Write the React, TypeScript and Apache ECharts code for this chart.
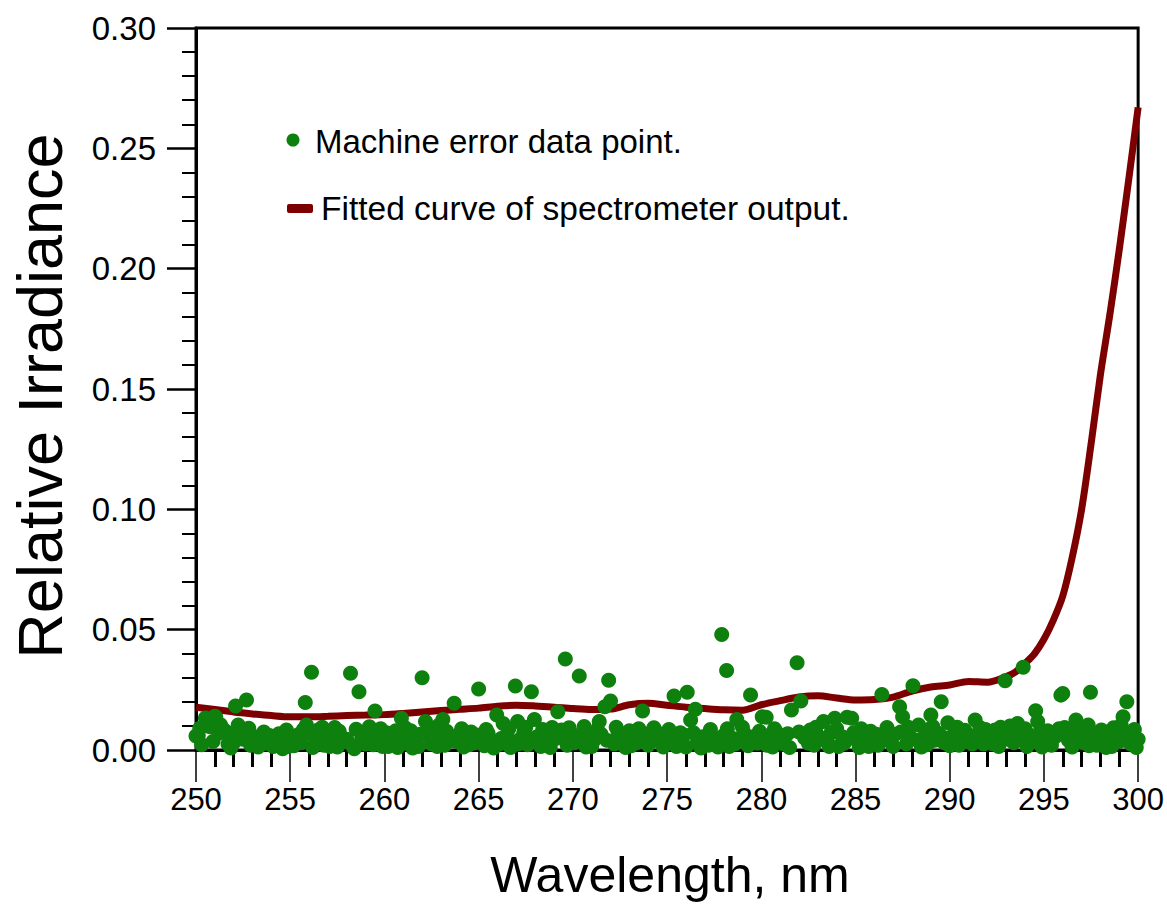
import React, { useEffect, useRef } from "react";
import * as echarts from "echarts";

const xTitle = "Wavelength, nm";
const yTitle = "Relative Irradiance";
const legendDots = "Machine error data point.";
const legendCurve = "Fitted curve of spectrometer output.";

const curveWavelengths = [250, 251, 252, 253, 254, 255, 256, 257, 258, 259, 260, 261, 262, 263, 264, 265, 266, 267, 268, 269, 270, 271, 272, 273, 274, 275, 276, 277, 278, 279, 280, 281, 282, 283, 284, 285, 286, 287, 288, 289, 290, 291, 292, 293, 293.5, 294, 294.5, 295, 295.5, 296, 296.5, 297, 297.5, 298, 298.5, 299, 299.5, 300];
const curveValues = [0.0178, 0.0168, 0.0158, 0.015, 0.0143, 0.0138, 0.0138, 0.014, 0.0143, 0.0145, 0.0147, 0.0152, 0.0158, 0.0164, 0.0169, 0.0174, 0.0182, 0.0186, 0.0183, 0.0178, 0.0172, 0.0168, 0.017, 0.0188, 0.0194, 0.0186, 0.0178, 0.0172, 0.0167, 0.0165, 0.0188, 0.0205, 0.022, 0.0225, 0.0216, 0.0208, 0.021, 0.022, 0.0245, 0.0262, 0.027, 0.0285, 0.0282, 0.0305, 0.0325, 0.036, 0.04, 0.046, 0.054, 0.064, 0.08, 0.1, 0.127, 0.156, 0.181, 0.208, 0.237, 0.267];

const errorPoints: [number, number][] = [
  [250.0, 0.0058], [250.12, 0.006], [250.3, 0.0022], [250.5, 0.0133], [250.74, 0.0097], [251.0, 0.014], [251.05, 0.0136], [251.2, 0.007], [251.45, 0.0086], [251.6, 0.0076], [251.8, 0.0055], [251.85, 0.0008],
  [252.0, 0.003], [252.1, 0.0183], [252.24, 0.0104], [252.5, 0.0045], [252.68, 0.0208], [252.9, 0.002], [253.1, 0.0055], [253.3, 0.0012], [253.5, 0.0048], [253.7, 0.0028], [253.9, 0.006],
  [254.1, 0.0015], [254.3, 0.0052], [254.5, 0.0035], [254.6, 0.0005], [254.8, 0.0083], [255.0, 0.004], [255.2, 0.0018], [255.4, 0.0062], [255.6, 0.003], [255.8, 0.0197], [255.86, 0.0104],
  [256.0, 0.0075], [256.13, 0.0323], [256.2, 0.001], [256.48, 0.0083], [256.6, 0.0042], [256.8, 0.002], [257.0, 0.0065], [257.2, 0.003], [257.36, 0.0094], [257.5, 0.0012], [257.7, 0.0055], [257.9, 0.0035],
  [258.2, 0.0319], [258.3, 0.0018], [258.5, 0.0086], [258.65, 0.0242], [258.8, 0.005], [259.0, 0.0025], [259.2, 0.0097], [259.3, 0.004], [259.5, 0.0162], [259.7, 0.006], [259.9, 0.0015],
  [260.1, 0.0072], [260.3, 0.0035], [260.5, 0.0055], [260.7, 0.001], [260.9, 0.0132], [261.0, 0.0065], [261.2, 0.0028], [261.4, 0.008], [261.6, 0.0045], [261.8, 0.0015],
  [262.0, 0.03], [262.18, 0.0118], [262.3, 0.006], [262.5, 0.0025], [262.7, 0.0048], [262.9, 0.0104], [263.1, 0.0127], [263.2, 0.002], [263.4, 0.0055], [263.7, 0.0194], [263.8, 0.0035],
  [264.0, 0.0068], [264.2, 0.0012], [264.4, 0.005], [264.6, 0.0075], [264.8, 0.003], [265.0, 0.0253], [265.1, 0.0058], [265.3, 0.0018], [265.5, 0.007], [265.7, 0.004], [265.96, 0.0145],
  [266.1, 0.0025], [266.3, 0.011], [266.5, 0.0062], [266.7, 0.001], [266.95, 0.0266], [267.07, 0.0118], [267.2, 0.0045], [267.4, 0.0075], [267.6, 0.0022], [267.8, 0.0242], [267.96, 0.0127],
  [268.1, 0.0055], [268.3, 0.0015], [268.5, 0.0068], [268.7, 0.0035], [268.9, 0.0094], [269.1, 0.0048], [269.2, 0.0159], [269.4, 0.0083], [269.6, 0.0378], [269.7, 0.002], [269.9, 0.006],
  [270.1, 0.003], [270.34, 0.0307], [270.5, 0.0072], [270.7, 0.0012], [270.9, 0.005], [271.1, 0.0038], [271.4, 0.0118], [271.5, 0.0065], [271.7, 0.018], [271.9, 0.029],
  [272.0, 0.0204], [272.2, 0.0025], [272.4, 0.007], [272.6, 0.0045], [272.8, 0.001], [273.0, 0.008], [273.2, 0.0055], [273.4, 0.003], [273.7, 0.0162], [273.8, 0.0068],
  [274.0, 0.002], [274.2, 0.005], [274.4, 0.0078], [274.6, 0.0035], [274.8, 0.0012], [275.0, 0.006], [275.2, 0.004], [275.37, 0.0224], [275.5, 0.0015], [275.7, 0.0072], [275.9, 0.0062],
  [276.07, 0.024], [276.25, 0.0125], [276.5, 0.0169], [276.6, 0.003], [276.8, 0.0008], [277.0, 0.0045], [277.2, 0.002], [277.4, 0.0055], [277.6, 0.003], [277.9, 0.048],
  [278.0, 0.006], [278.16, 0.033], [278.3, 0.0015], [278.5, 0.0048], [278.7, 0.0127], [278.9, 0.0035], [279.1, 0.007], [279.3, 0.0018], [279.43, 0.0229], [279.6, 0.0055], [279.8, 0.0028],
  [280.05, 0.0138], [280.26, 0.0136], [280.4, 0.006], [280.6, 0.0012], [280.8, 0.0075], [281.0, 0.004], [281.2, 0.0025], [281.4, 0.0068], [281.6, 0.0166], [281.9, 0.0363],
  [282.1, 0.0204], [282.3, 0.005], [282.6, 0.0083], [282.8, 0.002], [283.0, 0.006], [283.3, 0.0118], [283.5, 0.0035], [283.7, 0.0072], [283.9, 0.0132],
  [284.1, 0.0015], [284.3, 0.0055], [284.55, 0.0136], [284.8, 0.0132], [285.0, 0.0045], [285.2, 0.001], [285.4, 0.0065], [285.6, 0.003], [285.8, 0.0078],
  [286.0, 0.005], [286.2, 0.002], [286.4, 0.0231], [286.67, 0.0094], [286.9, 0.004], [287.1, 0.0065], [287.34, 0.018], [287.5, 0.0138], [287.7, 0.0025], [287.9, 0.0055],
  [288.05, 0.0267], [288.35, 0.0104], [288.5, 0.0012], [288.7, 0.006], [288.9, 0.0085], [289.0, 0.0145], [289.2, 0.004], [289.4, 0.007], [289.55, 0.02], [289.7, 0.003], [289.9, 0.0113],
  [290.1, 0.0055], [290.3, 0.0083], [290.5, 0.002], [290.7, 0.0065], [290.9, 0.0035], [291.1, 0.005], [291.35, 0.0125], [291.6, 0.0094], [291.8, 0.0025],
  [292.0, 0.006], [292.2, 0.004], [292.4, 0.0083], [292.6, 0.0015], [292.8, 0.0055], [292.94, 0.0288], [293.2, 0.01], [293.4, 0.003], [293.6, 0.011], [293.8, 0.0045], [293.9, 0.0344],
  [294.1, 0.0015], [294.3, 0.006], [294.56, 0.0163], [294.67, 0.0118], [294.8, 0.0075], [295.0, 0.0035], [295.2, 0.008], [295.4, 0.002], [295.6, 0.0055], [295.9, 0.0228],
  [296.0, 0.0235], [296.1, 0.0094], [296.3, 0.004], [296.5, 0.0012], [296.7, 0.0125], [296.9, 0.0065], [297.1, 0.003], [297.35, 0.0104], [297.47, 0.024], [297.6, 0.0055], [297.8, 0.002],
  [298.05, 0.0083], [298.2, 0.0045], [298.4, 0.0075], [298.6, 0.0015], [298.8, 0.006], [299.0, 0.0035], [299.1, 0.0104], [299.2, 0.0138], [299.4, 0.02], [299.5, 0.006], [299.73, 0.0044], [299.9, 0.001], [300.0, 0.0045],
];

const bandPoints: [number, number][] = [
  [250.2, 0.009], [250.9, 0.0035], [251.3, 0.0105], [251.7, 0.0025], [252.3, 0.0065], [252.8, 0.009], [253.2, 0.0035], [253.6, 0.0075], [254.0, 0.0025], [254.4, 0.0068], [254.9, 0.0015],
  [255.3, 0.0045], [255.7, 0.0085], [256.3, 0.0055], [256.7, 0.0095], [257.1, 0.0015], [257.6, 0.0078], [258.0, 0.0045], [258.4, 0.0005], [258.9, 0.0072], [259.4, 0.0022], [259.8, 0.0088],
  [260.2, 0.0015], [260.6, 0.008], [261.1, 0.0092], [261.5, 0.0008], [261.9, 0.0065], [262.4, 0.0085], [262.8, 0.0015], [263.3, 0.0078], [263.6, 0.004], [264.1, 0.0088], [264.5, 0.0022],
  [264.9, 0.0062], [265.4, 0.0085], [265.8, 0.0008], [266.2, 0.0048], [266.6, 0.0088], [267.1, 0.0025], [267.5, 0.0095], [267.9, 0.0035], [268.4, 0.0085], [268.8, 0.001], [269.3, 0.0065],
  [269.8, 0.0092], [270.2, 0.0055], [270.6, 0.0098], [271.0, 0.0015], [271.3, 0.0085], [271.8, 0.004], [272.3, 0.0095], [272.7, 0.0028], [273.1, 0.0018], [273.5, 0.0088], [273.9, 0.0045],
  [274.3, 0.0092], [274.7, 0.0058], [275.1, 0.0085], [275.6, 0.0035], [276.0, 0.0012], [276.4, 0.0072], [276.9, 0.0055], [277.3, 0.0085], [277.7, 0.0012], [278.2, 0.0088], [278.6, 0.0025],
  [279.0, 0.0095], [279.5, 0.0038], [279.9, 0.0078], [280.3, 0.002], [280.7, 0.0088], [281.1, 0.006], [281.5, 0.001], [282.0, 0.0075], [282.5, 0.0028], [282.9, 0.0095], [283.2, 0.0045],
  [283.6, 0.0015], [284.0, 0.0088], [284.4, 0.0028], [284.9, 0.0072], [285.3, 0.0088], [285.7, 0.0015], [286.1, 0.0065], [286.5, 0.0042], [287.0, 0.0015], [287.4, 0.0075], [287.8, 0.0095],
  [288.3, 0.004], [288.8, 0.0022], [289.1, 0.0098], [289.6, 0.0055], [290.0, 0.0018], [290.4, 0.0095], [290.8, 0.0082], [291.2, 0.0025], [291.5, 0.0068], [291.9, 0.0085], [292.3, 0.0025],
  [292.7, 0.0095], [293.1, 0.0045], [293.5, 0.0068], [294.0, 0.0088], [294.4, 0.0035], [294.9, 0.0012], [295.3, 0.0062], [295.8, 0.0088], [296.2, 0.0065], [296.6, 0.0095], [297.0, 0.0085],
  [297.4, 0.0018], [297.9, 0.0062], [298.3, 0.001], [298.7, 0.0092], [299.3, 0.0072], [299.6, 0.0025], [299.8, 0.0085],
];

const FONT = "'Liberation Sans', Arial, sans-serif";
const GREEN = "#0e800e";
const RED = "#7d0000";

export default function App() {
  const ref = useRef<HTMLDivElement>(null);
  useEffect(() => {
    document.body.style.margin = "0";
    if (!ref.current) return;
    const chart = echarts.init(ref.current, undefined, { renderer: "svg" });
    const curveData = curveWavelengths.map((w, i) => [w, curveValues[i]]);
    chart.setOption({
      animation: false,
      backgroundColor: "#fff",
      grid: { left: 196, top: 28, right: 27, bottom: 168, show: true, borderColor: "#000", borderWidth: 3 },
      xAxis: {
        type: "value",
        min: 250,
        max: 300,
        interval: 5,
        axisLine: { show: true, onZero: false, lineStyle: { color: "#000", width: 3 } },
        axisTick: { show: true, inside: false, length: 32, lineStyle: { color: "#000", width: 1.5 } },
        minorTick: { show: true, splitNumber: 5, length: 17, lineStyle: { color: "#000", width: 3 } },
        splitLine: { show: false },
        axisLabel: { color: "#000", fontSize: 31, fontFamily: FONT, margin: 34 },
      },
      yAxis: {
        type: "value",
        min: 0,
        max: 0.3,
        interval: 0.05,
        axisLine: { show: true, onZero: false, lineStyle: { color: "#000", width: 3 } },
        axisTick: { show: true, inside: false, length: 29, lineStyle: { color: "#000", width: 2.5 } },
        minorTick: { show: true, splitNumber: 5, length: 14, lineStyle: { color: "#000", width: 2 } },
        splitLine: { show: false },
        axisLabel: { color: "#000", fontSize: 33, fontFamily: FONT, margin: 40, formatter: (v: number) => v.toFixed(2) },
      },
      series: [
        {
          type: "line",
          data: curveData,
          smooth: 0.3,
          showSymbol: false,
          symbol: "none",
          lineStyle: { color: RED, width: 7 },
          z: 2,
        },
        {
          type: "scatter",
          data: [...errorPoints, ...bandPoints],
          symbol: "circle",
          symbolSize: 15,
          itemStyle: { color: GREEN, opacity: 1 },
          z: 3,
        },
      ],
      graphic: [
        {
          type: "text",
          x: 40,
          y: 396,
          rotation: Math.PI / 2,
          style: { text: yTitle, fontSize: 63, fontFamily: FONT, fill: "#000", align: "center", verticalAlign: "middle" },
        },
        {
          type: "text",
          x: 670,
          y: 875,
          style: { text: xTitle, fontSize: 50, fontFamily: FONT, fill: "#000", align: "center", verticalAlign: "middle" },
        },
        { type: "circle", shape: { cx: 293, cy: 140, r: 6.5 }, style: { fill: GREEN } },
        {
          type: "text",
          x: 315,
          y: 141,
          style: { text: legendDots, fontSize: 33, fontFamily: FONT, fill: "#000", align: "left", verticalAlign: "middle" },
        },
        { type: "rect", shape: { x: 287, y: 204, width: 26, height: 9, r: 2 }, style: { fill: RED } },
        {
          type: "text",
          x: 321,
          y: 208,
          style: { text: legendCurve, fontSize: 33.5, fontFamily: FONT, fill: "#000", align: "left", verticalAlign: "middle" },
        },
      ],
    });
    return () => chart.dispose();
  }, []);
  return <div ref={ref} style={{ width: 1167, height: 918 }} />;
}
